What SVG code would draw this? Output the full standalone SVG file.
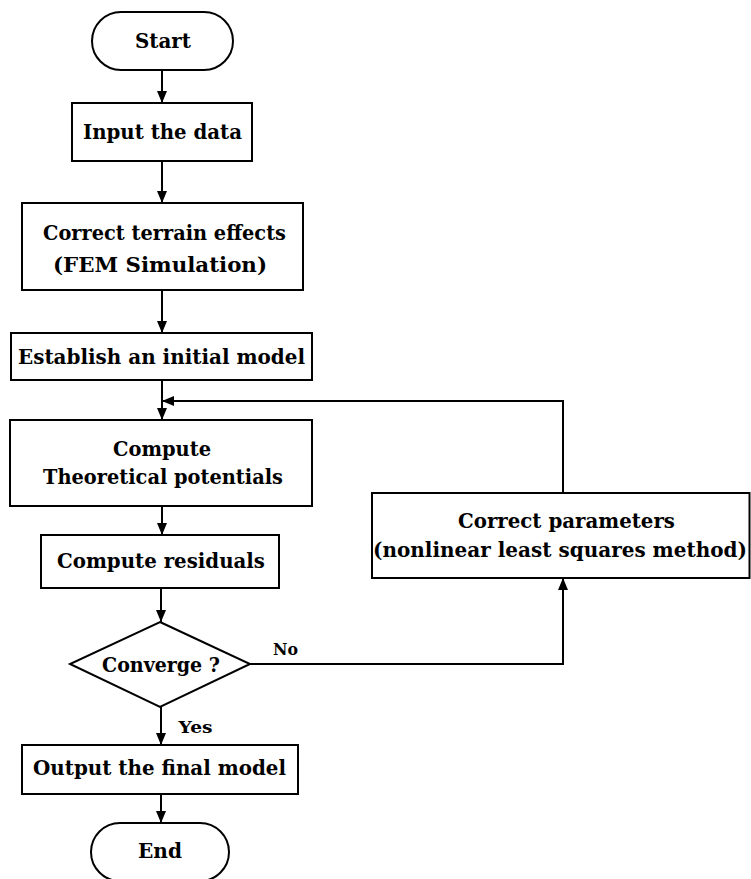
<svg xmlns="http://www.w3.org/2000/svg" width="751" height="879" viewBox="0 0 751 879">
<style>
.box{fill:#fff;stroke:#000;stroke-width:2}
.t{font-family:"DejaVu Serif","Liberation Serif",serif;font-weight:bold;font-size:19.5px;fill:#000;text-anchor:middle}
.s{font-size:17px}
.c{fill:none;stroke:#000;stroke-width:2}
</style>
<defs>
<marker id="ah" markerWidth="12" markerHeight="10" refX="12" refY="5" orient="auto" markerUnits="userSpaceOnUse">
<path d="M0,0 L12,5 L0,10 Z" fill="#000"/>
</marker>
</defs>
<rect width="751" height="879" fill="#fff"/>
<g id="connectors">
<line class="c" x1="162" y1="70" x2="162" y2="103" marker-end="url(#ah)"/>
<line class="c" x1="162" y1="161" x2="162" y2="203" marker-end="url(#ah)"/>
<line class="c" x1="162" y1="290" x2="162" y2="333" marker-end="url(#ah)"/>
<line class="c" x1="162" y1="380" x2="162" y2="420" marker-end="url(#ah)"/>
<polyline class="c" points="563,493 563,401 162,401" marker-end="url(#ah)"/>
<line class="c" x1="162" y1="506" x2="162" y2="535" marker-end="url(#ah)"/>
<line class="c" x1="161" y1="588" x2="161" y2="622" marker-end="url(#ah)"/>
<polyline class="c" points="250,664 563,664 563,578" marker-end="url(#ah)"/>
<line class="c" x1="161" y1="707" x2="161" y2="745" marker-end="url(#ah)"/>
<line class="c" x1="161" y1="794" x2="161" y2="823" marker-end="url(#ah)"/>
<text class="t s" x="285.5" y="655" textLength="25" lengthAdjust="spacingAndGlyphs">No</text>
<text class="t s" x="195.5" y="733" textLength="34" lengthAdjust="spacingAndGlyphs">Yes</text>
</g>
<g id="start">
<rect class="box" x="92" y="12" width="141" height="58" rx="29"/>
<text class="t" x="163" y="48" textLength="56" lengthAdjust="spacingAndGlyphs">Start</text>
</g>
<g id="input">
<rect class="box" x="72" y="103" width="180" height="58"/>
<text class="t" x="162.5" y="139" textLength="159" lengthAdjust="spacingAndGlyphs">Input the data</text>
</g>
<g id="terrain">
<rect class="box" x="22" y="203" width="281" height="87"/>
<text class="t" x="164.5" y="240" textLength="243" lengthAdjust="spacingAndGlyphs">Correct terrain effects</text>
<text class="t" x="160" y="272" textLength="214" lengthAdjust="spacingAndGlyphs">(FEM Simulation)</text>
</g>
<g id="initial">
<rect class="box" x="11" y="333" width="301" height="47"/>
<text class="t" x="161.5" y="364" textLength="287" lengthAdjust="spacingAndGlyphs">Establish an initial model</text>
</g>
<g id="theoretical">
<rect class="box" x="10" y="420" width="302" height="86"/>
<text class="t" x="162" y="456" textLength="98" lengthAdjust="spacingAndGlyphs">Compute</text>
<text class="t" x="163" y="484" textLength="240" lengthAdjust="spacingAndGlyphs">Theoretical potentials</text>
</g>
<g id="residuals">
<rect class="box" x="41" y="535" width="238" height="53"/>
<text class="t" x="161" y="568" textLength="208" lengthAdjust="spacingAndGlyphs">Compute residuals</text>
</g>
<g id="converge">
<polygon class="box" points="160,622 250,664 160,707 70,664"/>
<text class="t" x="161" y="672" textLength="118" lengthAdjust="spacingAndGlyphs">Converge ?</text>
</g>
<g id="parameters">
<rect class="box" x="372" y="493" width="377.5" height="85"/>
<text class="t" x="566.5" y="528" textLength="217" lengthAdjust="spacingAndGlyphs">Correct parameters</text>
<text class="t" x="560" y="557" textLength="374" lengthAdjust="spacingAndGlyphs">(nonlinear least squares method)</text>
</g>
<g id="output">
<rect class="box" x="22" y="745" width="276" height="49"/>
<text class="t" x="159.5" y="775" textLength="253" lengthAdjust="spacingAndGlyphs">Output the final model</text>
</g>
<g id="end">
<rect class="box" x="91" y="823" width="138" height="58" rx="29"/>
<text class="t" x="160" y="858" textLength="44" lengthAdjust="spacingAndGlyphs">End</text>
</g>
</svg>
